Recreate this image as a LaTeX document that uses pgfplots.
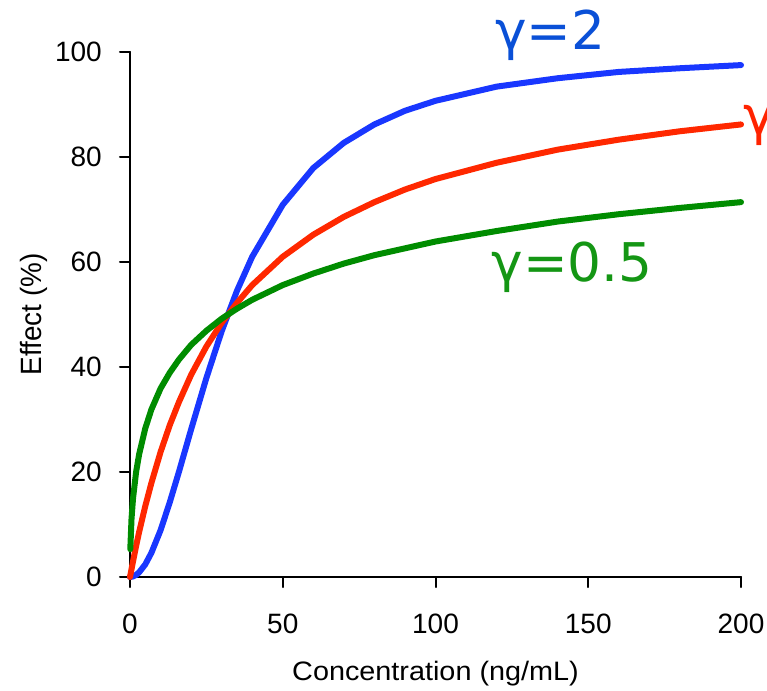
\documentclass[border=0pt]{standalone}
\usepackage{fontspec}
\setmainfont{Liberation Sans}
\newfontfamily\dv{DejaVu Sans}
\newfontfamily\wide[FakeStretch=1.08]{Liberation Sans}
\newfontfamily\narrow[FakeStretch=0.95]{Liberation Sans}
\usepackage{pgfplots}
\pgfplotsset{compat=1.18}

\definecolor{cblue}{RGB}{25,55,255}
\definecolor{cred}{RGB}{255,40,0}
\definecolor{cgreen}{RGB}{0,140,0}
\definecolor{tblue}{RGB}{10,80,215}
\definecolor{tred}{RGB}{255,35,0}
\definecolor{tgreen}{RGB}{20,150,20}

\begin{document}
\begin{tikzpicture}
\begin{axis}[
  scale only axis, width=458.25pt, height=393.75pt,
  xmin=0, xmax=200, ymin=0, ymax=100,
  axis lines=left, axis line style={-, line width=1.5pt},
  xtick={0,50,...,200}, ytick={0,20,...,100},
  tick align=outside, major tick length=7.5pt,
  tick style={line width=1.5pt, black},
  /pgf/number format/assume math mode=true,
  tick label style={font=\fontsize{21}{21}\selectfont, inner sep=0pt},
  xticklabel style={anchor=base, yshift=-34.5pt},
  yticklabel style={anchor=east, xshift=-13.5pt},
  clip=false,
  line join=round, line cap=round,
]
\addplot[cblue, line width=4.5pt] coordinates {
  (0,0) (1,0.1) (2,0.4) (3,0.9) (5,2.4) (7,4.6) (10,8.9) (13,14.2) (16,20.0)
  (20,28.1) (25,37.9) (30,46.8) (35,54.5) (40,61.0) (50,70.9) (60,77.9)
  (70,82.7) (80,86.2) (90,88.8) (100,90.7) (120,93.4) (140,95.0) (160,96.2)
  (180,96.9) (200,97.5)
};
\addplot[cred, line width=4.5pt] coordinates {
  (0,0) (0.5,1.5) (1,3.0) (2,5.9) (3,8.6) (5,13.5) (7,17.9) (10,23.8) (13,28.9)
  (16,33.3) (20,38.5) (25,43.9) (30,48.4) (35,52.2) (40,55.6) (50,61.0)
  (60,65.2) (70,68.6) (80,71.4) (90,73.8) (100,75.8) (120,78.9) (140,81.4)
  (160,83.3) (180,84.9) (200,86.2)
};
\addplot[cgreen, line width=4.5pt] coordinates {
  (0.1,5.3) (0.5,11.1) (1,15.0) (2,20.0) (3,23.4) (5,28.3) (7,31.9) (10,35.9)
  (13,38.9) (16,41.4) (20,44.2) (25,46.9) (30,49.2) (35,51.1) (40,52.8)
  (50,55.6) (60,57.8) (70,59.7) (80,61.3) (90,62.6) (100,63.9) (120,65.9)
  (140,67.7) (160,69.1) (180,70.3) (200,71.4)
};

% axis titles
\node[anchor=base, font=\wide\fontsize{20}{20}\selectfont]
  at ([yshift=-77.5pt]axis description cs:0.5,0) {Concentration (ng/mL)};
\node[anchor=base, rotate=90, font=\narrow\fontsize{22}{22}\selectfont]
  at ([xshift=-66pt]axis description cs:0,0.5) {Effect (\%)};

% curve labels
\node[anchor=base west, inner sep=0pt, text=tblue, font=\dv\fontsize{40}{40}\selectfont]
  at (axis cs:119.5,100.4) {γ=2};
\node[anchor=base west, inner sep=0pt, text=tred, font=\dv\fontsize{40}{40}\selectfont]
  at (axis cs:200.6,84.2) {γ=1};
\node[anchor=base west, inner sep=0pt, text=tgreen, font=\dv\fontsize{40}{40}\selectfont]
  at (axis cs:118.3,56.2) {γ=0.5};

\coordinate (bl) at (axis cs:-42.55,-21.71);
\coordinate (tr) at (axis cs:208.5,109.9);
\end{axis}
\pgfresetboundingbox
\useasboundingbox (bl) rectangle (tr);
\end{tikzpicture}
\end{document}
